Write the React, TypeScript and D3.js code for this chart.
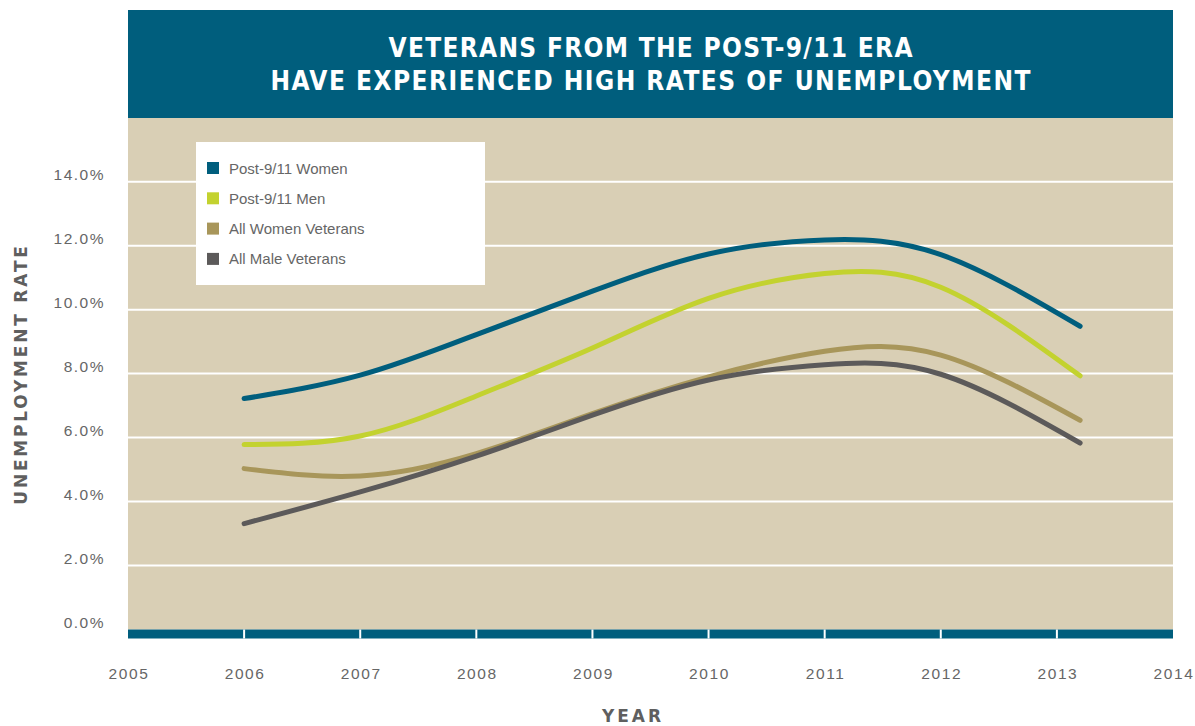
import * as d3 from "d3";

const years = [2006, 2007, 2008, 2009, 2010, 2011, 2012, 2013.2];
const post911Women = [7.22, 7.95, 9.22, 10.58, 11.74, 12.18, 11.72, 9.48];
const post911Men = [5.78, 6.05, 7.3, 8.8, 10.35, 11.13, 10.7, 7.93];
const allWomenVets = [5.03, 4.8, 5.5, 6.75, 7.9, 8.7, 8.58, 6.54];
const allMaleVets = [3.31, 4.3, 5.42, 6.7, 7.8, 8.28, 7.98, 5.83];

const seriesNames = ["Post-9/11 Women", "Post-9/11 Men", "All Women Veterans", "All Male Veterans"];
const seriesValues = [post911Women, post911Men, allWomenVets, allMaleVets];
const seriesColors = ["#005e7d", "#c3d22f", "#a8965a", "#5c5a5a"];

const yTicks = [0, 2, 4, 6, 8, 10, 12, 14];
const xTicks = [2005, 2006, 2007, 2008, 2009, 2010, 2011, 2012, 2013, 2014];
const titleLines = ["VETERANS FROM THE POST-9/11 ERA", "HAVE EXPERIENCED HIGH RATES OF UNEMPLOYMENT"];

const W = 1195;
const H = 726;
const left = 128;
const right = 1173;
const teal = "#005e7d";
const beige = "#d9cfb5";
const labelFont = "'Liberation Sans', Arial, sans-serif";

export default function App() {
  const x = d3.scaleLinear().domain([2005, 2014]).range([left, right]);
  const y = d3.scaleLinear().domain([0, 14]).range([629.5, 181.7]);

  const line = d3
    .line<number>()
    .x((_, i) => x(years[i]))
    .y((d) => y(d))
    .curve(d3.curveNatural);

  const baseY = y(0);

  return (
    <svg
      width={W}
      height={H}
      style={{ position: "absolute", left: 0, top: 0, background: "#fff" }}
    >
      {/* title band */}
      <rect x={left} y={10} width={right - left} height={108} fill={teal} />
      {titleLines.map((t, i) => (
        <text
          key={t}
          x={(left + right) / 2}
          y={57 + i * 33}
          textAnchor="middle"
          fill="#fff"
          fontFamily="'DejaVu Sans Condensed', 'DejaVu Sans', sans-serif"
          fontWeight="bold"
          fontSize={26}
          textLength={i === 0 ? 524 : 760}
          lengthAdjust="spacing"
        >
          {t}
        </text>
      ))}

      {/* plot background */}
      <rect x={left} y={118} width={right - left} height={baseY - 118} fill={beige} />

      {/* gridlines */}
      {yTicks.slice(1).map((t) => (
        <line key={t} x1={left} x2={right} y1={y(t)} y2={y(t)} stroke="#fff" strokeWidth={2} />
      ))}

      {/* y labels */}
      {yTicks.map((t) => (
        <text
          key={t}
          x={105}
          y={y(t) - 2}
          textAnchor="end"
          fill="#666"
          fontFamily={labelFont}
          fontSize={15.5}
          letterSpacing={1.5}
        >
          {d3.format(".1f")(t)}%
        </text>
      ))}

      {/* bottom bar with tick gaps */}
      <rect x={left} y={baseY} width={right - left} height={9} fill={teal} />
      {xTicks.slice(1, -1).map((t) => (
        <line key={t} x1={x(t)} x2={x(t)} y1={baseY} y2={baseY + 9} stroke="#fff" strokeWidth={2} />
      ))}

      {/* x labels */}
      {xTicks.map((t) => (
        <text
          key={t}
          x={x(t) + 1}
          y={679}
          textAnchor="middle"
          fill="#666"
          fontFamily={labelFont}
          fontSize={15.5}
          letterSpacing={1.6}
        >
          {t}
        </text>
      ))}

      {/* series */}
      {seriesValues.map((vals, i) => (
        <path
          key={seriesNames[i]}
          d={line(vals) ?? ""}
          fill="none"
          stroke={seriesColors[i]}
          strokeWidth={5}
          strokeLinecap="round"
        />
      ))}

      {/* legend */}
      <rect x={196} y={142} width={289} height={143} fill="#fff" />
      {seriesNames.map((n, i) => (
        <g key={n} transform={`translate(207, ${168 + i * 30.3})`}>
          <rect x={0} y={-6} width={12} height={12} fill={seriesColors[i]} />
          <text x={22} y={5.5} fill="#666" fontFamily={labelFont} fontSize={15}>
            {n}
          </text>
        </g>
      ))}

      {/* axis titles */}
      <text
        transform="translate(26.5, 374) rotate(-90)"
        textAnchor="middle"
        fill="#5f5f5f"
        fontFamily="'DejaVu Sans', sans-serif"
        fontWeight="bold"
        fontSize={17}
        letterSpacing={2.8}
      >
        UNEMPLOYMENT RATE
      </text>
      <text
        x={633}
        y={722}
        textAnchor="middle"
        fill="#5f5f5f"
        fontFamily="'DejaVu Sans', sans-serif"
        fontWeight="bold"
        fontSize={17}
        letterSpacing={3}
      >
        YEAR
      </text>
    </svg>
  );
}
